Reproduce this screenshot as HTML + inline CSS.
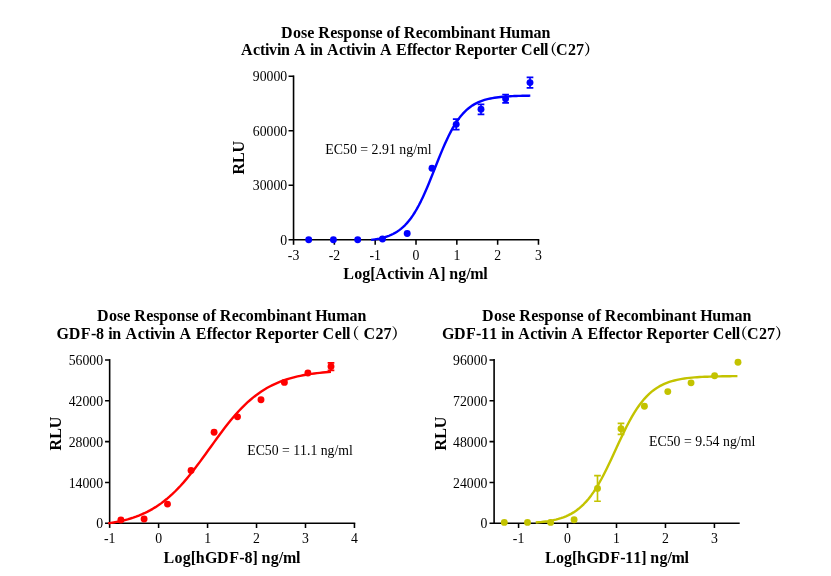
<!DOCTYPE html>
<html lang="en">
<head>
<meta charset="utf-8">
<title>Dose Response of Recombinant Human Activin A, GDF-8 and GDF-11 in Activin A Effector Reporter Cell (C27)</title>
<style>
html,body{margin:0;padding:0;background:#fff;}
body{width:831px;height:576px;overflow:hidden;}
svg{display:block;}
text{font-family:"Liberation Serif", "Noto Serif CJK SC", serif;fill:#000;white-space:pre;font-kerning:none;}
.tb{font-weight:bold;font-size:16px;}
.tk{font-size:14.5px;}
.te{font-size:14.6px;}
.ax{fill:none;stroke:#000;stroke-width:1.6;}
.tc{fill:none;stroke:#000;stroke-width:1.55;}
</style>
</head>
<body>
<svg width="831" height="576" viewBox="0 0 831 576">
<rect width="831" height="576" fill="#fff"/>
<g>
<text y="37.6" class="tb"><tspan x="281 293.07 301.11 307.15 314.18 318.21 330.27 337.31 343.35 352.4 360.44 369.49 375.53 382.57 386.59 394.63 399.66 403.68 415.75 422.79 429.83 437.87 450.95 460 464.02 473.07 481.11 490.16 495.19 499.21 511.28 520.33 533.4 541.45">Dose Response of Recombinant Human</tspan></text>
<text y="54.9" class="tb"><tspan x="241 253 260 265 269 277 281 290 294 306 310 314 323 327 339 346 351 355 363 367 376 380 392 396 407 412 417 424 431 436 444 451 455 467 474 483 491 498 503 510 517 521 533 540 544">Activin A in Activin A Effector Reporter Cell</tspan><tspan x="542.1" font-size="15">（</tspan><tspan x="556 568 576">C27</tspan><tspan x="584.1" font-size="15">）</tspan></text>
<path d="M288.55 239.8H539.27" class="ax"/>
<path d="M293.55 75.4V244.8" class="ax"/>
<path d="M288.55 185.27H293.55M288.55 130.73H293.55M288.55 76.2H293.55M334.37 239.8V244.8M375.19 239.8V244.8M416.01 239.8V244.8M456.83 239.8V244.8M497.65 239.8V244.8M538.47 239.8V244.8" class="tc"/>
<text transform="translate(287.15 244.9) scale(0.95 1)" class="tk" text-anchor="end">0</text>
<text transform="translate(287.15 190.37) scale(0.95 1)" class="tk" text-anchor="end">30000</text>
<text transform="translate(287.15 135.83) scale(0.95 1)" class="tk" text-anchor="end">60000</text>
<text transform="translate(287.15 81.3) scale(0.95 1)" class="tk" text-anchor="end">90000</text>
<text transform="translate(293.55 259.9) scale(0.95 1)" class="tk" text-anchor="middle">-3</text>
<text transform="translate(334.37 259.9) scale(0.95 1)" class="tk" text-anchor="middle">-2</text>
<text transform="translate(375.19 259.9) scale(0.95 1)" class="tk" text-anchor="middle">-1</text>
<text transform="translate(416.01 259.9) scale(0.95 1)" class="tk" text-anchor="middle">0</text>
<text transform="translate(456.83 259.9) scale(0.95 1)" class="tk" text-anchor="middle">1</text>
<text transform="translate(497.65 259.9) scale(0.95 1)" class="tk" text-anchor="middle">2</text>
<text transform="translate(538.47 259.9) scale(0.95 1)" class="tk" text-anchor="middle">3</text>
<text x="343.3 354.3 362.3 370.3 375.3 387.3 394.3 399.3 403.3 411.3 415.3 424.3 428.3 440.3 445.3 449.3 458.3 466.3 470.3 483.3" y="279.05" class="tb">Log[Activin A] ng/ml</text>
<text transform="translate(244.4 174.6) rotate(-90)" class="tb" x="0 11.59 22.21" y="0">RLU</text>
<text transform="translate(325.3 153.8) scale(0.95 1)" class="te">EC50 = 2.91 ng/ml</text>
<path d="M371.11 239.88 L373.1 239.62 L375.09 239.33 L377.08 239 L379.07 238.62 L381.06 238.19 L383.05 237.69 L385.04 237.13 L387.03 236.49 L389.02 235.76 L391.01 234.93 L393 233.99 L394.99 232.93 L396.98 231.73 L398.97 230.38 L400.96 228.86 L402.95 227.16 L404.94 225.26 L406.93 223.14 L408.92 220.8 L410.91 218.21 L412.9 215.36 L414.89 212.26 L416.88 208.88 L418.87 205.24 L420.86 201.34 L422.85 197.19 L424.84 192.81 L426.83 188.22 L428.82 183.46 L430.81 178.57 L432.8 173.58 L434.79 168.54 L436.78 163.51 L438.77 158.52 L440.76 153.62 L442.75 148.86 L444.74 144.27 L446.73 139.89 L448.72 135.74 L450.71 131.84 L452.7 128.2 L454.69 124.83 L456.68 121.72 L458.67 118.88 L460.66 116.29 L462.65 113.94 L464.64 111.83 L466.63 109.93 L468.62 108.22 L470.61 106.71 L472.6 105.35 L474.59 104.15 L476.58 103.09 L478.57 102.15 L480.56 101.33 L482.55 100.6 L484.54 99.96 L486.53 99.39 L488.52 98.9 L490.51 98.46 L492.5 98.09 L494.49 97.75 L496.48 97.46 L498.47 97.21 L500.46 96.99 L502.45 96.79 L504.44 96.62 L506.43 96.47 L508.42 96.34 L510.41 96.23 L512.4 96.13 L514.39 96.05 L516.38 95.97 L518.37 95.91 L520.36 95.85 L522.35 95.8 L524.34 95.76 L526.33 95.72 L528.32 95.69 L530.31 95.66" fill="none" stroke="#0000FF" stroke-width="2.4" stroke-linecap="butt" stroke-linejoin="round"/>
<path d="M456.2 119.05V129.65M452.85 119.05H459.55M452.85 129.65H459.55M481 104.3V114.3M477.65 104.3H484.35M477.65 114.3H484.35M505.6 94.5V102.9M502.25 94.5H508.95M502.25 102.9H508.95M530 77.4V87.8M526.65 77.4H533.35M526.65 87.8H533.35" fill="none" stroke="#0000FF" stroke-width="1.65"/>
<circle cx="308.7" cy="239.7" r="3.45" fill="#0000FF"/>
<circle cx="333.4" cy="239.7" r="3.45" fill="#0000FF"/>
<circle cx="357.7" cy="239.7" r="3.45" fill="#0000FF"/>
<circle cx="382.5" cy="239" r="3.45" fill="#0000FF"/>
<circle cx="407.2" cy="233.5" r="3.45" fill="#0000FF"/>
<circle cx="432" cy="168.3" r="3.45" fill="#0000FF"/>
<circle cx="456.2" cy="124.35" r="3.45" fill="#0000FF"/>
<circle cx="481" cy="109.3" r="3.45" fill="#0000FF"/>
<circle cx="505.6" cy="98.7" r="3.45" fill="#0000FF"/>
<circle cx="530" cy="82.6" r="3.45" fill="#0000FF"/>
</g>
<g>
<text y="321.1" class="tb"><tspan x="97 109.07 117.11 123.15 130.18 134.21 146.27 153.31 159.35 168.4 176.44 185.49 191.53 198.57 202.59 210.63 215.66 219.68 231.75 238.79 245.83 253.87 266.95 276 280.02 289.07 297.11 306.16 311.19 315.21 327.28 336.33 349.4 357.45">Dose Response of Recombinant Human</tspan></text>
<text y="339.2" class="tb"><tspan x="56.5 68.69 80.87 91.03 96.11 104.23 108.29 112.36 121.5 125.56 137.75 144.85 149.93 153.99 162.12 166.18 175.32 179.38 191.57 195.63 206.8 211.88 216.96 224.07 231.18 236.26 244.38 251.49 255.55 267.74 274.85 283.99 292.11 299.22 304.3 311.41 318.52 322.58 334.77 341.88 345.94">GDF-8 in Activin A Effector Reporter Cell</tspan><tspan x="344.2" font-size="15">（</tspan><tspan x="359.5 363.5 375.5 383.5"> C27</tspan><tspan x="391.6" font-size="15">）</tspan></text>
<path d="M105.05 523.3H355.25" class="ax"/>
<path d="M109.65 359.1V527.9" class="ax"/>
<path d="M105.05 482.45H109.65M105.05 441.6H109.65M105.05 400.75H109.65M105.05 359.9H109.65M158.61 523.3V527.9M207.57 523.3V527.9M256.53 523.3V527.9M305.49 523.3V527.9M354.45 523.3V527.9" class="tc"/>
<text transform="translate(103.05 528.4) scale(0.95 1)" class="tk" text-anchor="end">0</text>
<text transform="translate(103.05 487.55) scale(0.95 1)" class="tk" text-anchor="end">14000</text>
<text transform="translate(103.05 446.7) scale(0.95 1)" class="tk" text-anchor="end">28000</text>
<text transform="translate(103.05 405.85) scale(0.95 1)" class="tk" text-anchor="end">42000</text>
<text transform="translate(103.05 365) scale(0.95 1)" class="tk" text-anchor="end">56000</text>
<text transform="translate(109.65 543.4) scale(0.95 1)" class="tk" text-anchor="middle">-1</text>
<text transform="translate(158.61 543.4) scale(0.95 1)" class="tk" text-anchor="middle">0</text>
<text transform="translate(207.57 543.4) scale(0.95 1)" class="tk" text-anchor="middle">1</text>
<text transform="translate(256.53 543.4) scale(0.95 1)" class="tk" text-anchor="middle">2</text>
<text transform="translate(305.49 543.4) scale(0.95 1)" class="tk" text-anchor="middle">3</text>
<text transform="translate(354.45 543.4) scale(0.95 1)" class="tk" text-anchor="middle">4</text>
<text x="163.4 174.54 182.64 190.74 195.8 204.92 217.07 229.22 239.34 244.41 252.51 257.57 261.62 270.73 278.84 282.89 296.05" y="562.9" class="tb">Log[hGDF-8] ng/ml</text>
<text transform="translate(60.6 450.4) rotate(-90)" class="tb" x="0 11.59 22.21" y="0">RLU</text>
<text transform="translate(247.3 454.8) scale(0.942 1)" class="te">EC50 = 11.1 ng/ml</text>
<path d="M108.18 523.36 L110.97 522.92 L113.75 522.45 L116.54 521.93 L119.32 521.36 L122.1 520.74 L124.89 520.05 L127.67 519.31 L130.46 518.5 L133.24 517.61 L136.03 516.64 L138.81 515.59 L141.6 514.45 L144.38 513.21 L147.17 511.86 L149.95 510.41 L152.73 508.84 L155.52 507.15 L158.3 505.33 L161.09 503.38 L163.87 501.29 L166.66 499.06 L169.44 496.68 L172.23 494.16 L175.01 491.5 L177.8 488.68 L180.58 485.73 L183.37 482.63 L186.15 479.4 L188.93 476.05 L191.72 472.58 L194.5 469 L197.29 465.34 L200.07 461.6 L202.86 457.79 L205.64 453.95 L208.43 450.07 L211.21 446.19 L214 442.33 L216.78 438.49 L219.57 434.7 L222.35 430.98 L225.13 427.34 L227.92 423.79 L230.7 420.35 L233.49 417.03 L236.27 413.84 L239.06 410.78 L241.84 407.87 L244.63 405.09 L247.41 402.47 L250.2 399.99 L252.98 397.66 L255.77 395.46 L258.55 393.41 L261.33 391.5 L264.12 389.72 L266.9 388.06 L269.69 386.52 L272.47 385.1 L275.26 383.79 L278.04 382.57 L280.83 381.46 L283.61 380.43 L286.4 379.49 L289.18 378.62 L291.96 377.83 L294.75 377.1 L297.53 376.43 L300.32 375.83 L303.1 375.27 L305.89 374.76 L308.67 374.3 L311.46 373.88 L314.24 373.5 L317.03 373.15 L319.81 372.83 L322.6 372.54 L325.38 372.27 L328.16 372.03 L330.95 371.82" fill="none" stroke="#FF0000" stroke-width="2.4" stroke-linecap="butt" stroke-linejoin="round"/>
<path d="M331 362.85V370.35M327.65 362.85H334.35M327.65 370.35H334.35" fill="none" stroke="#FF0000" stroke-width="1.65"/>
<circle cx="120.9" cy="519.95" r="3.45" fill="#FF0000"/>
<circle cx="144.1" cy="519" r="3.45" fill="#FF0000"/>
<circle cx="167.5" cy="504.1" r="3.45" fill="#FF0000"/>
<circle cx="191.05" cy="470.4" r="3.45" fill="#FF0000"/>
<circle cx="214.1" cy="432.3" r="3.45" fill="#FF0000"/>
<circle cx="237.5" cy="416.85" r="3.45" fill="#FF0000"/>
<circle cx="261" cy="399.7" r="3.45" fill="#FF0000"/>
<circle cx="284.4" cy="382.4" r="3.45" fill="#FF0000"/>
<circle cx="307.9" cy="373" r="3.45" fill="#FF0000"/>
<circle cx="331" cy="366.5" r="3.45" fill="#FF0000"/>
</g>
<g>
<text y="321.1" class="tb"><tspan x="482 494.07 502.11 508.15 515.18 519.21 531.27 538.31 544.35 553.4 561.44 570.49 576.53 583.57 587.59 595.63 600.66 604.68 616.75 623.79 630.83 638.87 651.95 661 665.02 674.07 682.11 691.16 696.19 700.21 712.28 721.33 734.4 742.45">Dose Response of Recombinant Human</tspan></text>
<text y="339.2" class="tb"><tspan x="442 454.03 466.06 476.09 481.11 489.13 497.15 501.16 505.17 514.19 518.2 530.24 537.26 542.27 546.28 554.3 558.31 567.34 571.35 583.38 587.39 598.42 603.43 608.45 615.47 622.48 627.5 635.52 642.54 646.55 658.58 665.6 674.62 682.65 689.67 694.68 701.7 708.72 712.73 724.76 731.78 735.79">GDF-11 in Activin A Effector Reporter Cell</tspan><tspan x="732.6" font-size="15">（</tspan><tspan x="747 759 767">C27</tspan><tspan x="775.1" font-size="15">）</tspan></text>
<path d="M489.5 523.3H739.7" class="ax"/>
<path d="M494.1 359.1V524.1" class="ax"/>
<path d="M489.5 482.45H494.1M489.5 441.6H494.1M489.5 400.75H494.1M489.5 359.9H494.1M518.58 523.3V527.9M567.54 523.3V527.9M616.5 523.3V527.9M665.46 523.3V527.9M714.42 523.3V527.9" class="tc"/>
<text transform="translate(487.5 528.4) scale(0.95 1)" class="tk" text-anchor="end">0</text>
<text transform="translate(487.5 487.55) scale(0.95 1)" class="tk" text-anchor="end">24000</text>
<text transform="translate(487.5 446.7) scale(0.95 1)" class="tk" text-anchor="end">48000</text>
<text transform="translate(487.5 405.85) scale(0.95 1)" class="tk" text-anchor="end">72000</text>
<text transform="translate(487.5 365) scale(0.95 1)" class="tk" text-anchor="end">96000</text>
<text transform="translate(518.58 543.4) scale(0.95 1)" class="tk" text-anchor="middle">-1</text>
<text transform="translate(567.54 543.4) scale(0.95 1)" class="tk" text-anchor="middle">0</text>
<text transform="translate(616.5 543.4) scale(0.95 1)" class="tk" text-anchor="middle">1</text>
<text transform="translate(665.46 543.4) scale(0.95 1)" class="tk" text-anchor="middle">2</text>
<text transform="translate(714.42 543.4) scale(0.95 1)" class="tk" text-anchor="middle">3</text>
<text x="545 556.04 564.07 572.09 577.11 586.14 598.19 610.23 620.26 625.28 633.31 641.34 646.35 650.37 659.4 667.43 671.44 684.49" y="562.9" class="tb">Log[hGDF-11] ng/ml</text>
<text transform="translate(445.6 450.4) rotate(-90)" class="tb" x="0 11.59 22.21" y="0">RLU</text>
<text transform="translate(649 446.3) scale(0.95 1)" class="te">EC50 = 9.54 ng/ml</text>
<path d="M535.72 522.52 L538.24 522.31 L540.76 522.07 L543.28 521.79 L545.8 521.46 L548.32 521.09 L550.84 520.65 L553.37 520.16 L555.89 519.58 L558.41 518.92 L560.93 518.16 L563.45 517.29 L565.97 516.29 L568.49 515.16 L571.02 513.86 L573.54 512.38 L576.06 510.7 L578.58 508.81 L581.1 506.68 L583.62 504.29 L586.14 501.63 L588.67 498.68 L591.19 495.42 L593.71 491.84 L596.23 487.96 L598.75 483.77 L601.27 479.28 L603.79 474.52 L606.32 469.51 L608.84 464.31 L611.36 458.96 L613.88 453.5 L616.4 448.01 L618.92 442.54 L621.44 437.15 L623.97 431.89 L626.49 426.83 L629.01 421.99 L631.53 417.42 L634.05 413.13 L636.57 409.15 L639.1 405.49 L641.62 402.14 L644.14 399.09 L646.66 396.34 L649.18 393.87 L651.7 391.67 L654.22 389.7 L656.75 387.97 L659.27 386.43 L661.79 385.08 L664.31 383.89 L666.83 382.86 L669.35 381.95 L671.87 381.16 L674.4 380.47 L676.92 379.87 L679.44 379.35 L681.96 378.9 L684.48 378.51 L687 378.17 L689.52 377.87 L692.05 377.62 L694.57 377.4 L697.09 377.21 L699.61 377.05 L702.13 376.91 L704.65 376.78 L707.17 376.68 L709.7 376.59 L712.22 376.51 L714.74 376.44 L717.26 376.38 L719.78 376.33 L722.3 376.29 L724.82 376.25 L727.35 376.22 L729.87 376.19 L732.39 376.17 L734.91 376.15 L737.43 376.13" fill="none" stroke="#C3C300" stroke-width="2.4" stroke-linecap="butt" stroke-linejoin="round"/>
<path d="M597.5 475.6V501.2M594.15 475.6H600.85M594.15 501.2H600.85M621 423.3V434.3M617.65 423.3H624.35M617.65 434.3H624.35" fill="none" stroke="#C3C300" stroke-width="1.65"/>
<circle cx="504.3" cy="522.4" r="3.45" fill="#C3C300"/>
<circle cx="527.5" cy="522.4" r="3.45" fill="#C3C300"/>
<circle cx="550.6" cy="522.4" r="3.45" fill="#C3C300"/>
<circle cx="574.1" cy="519.7" r="3.45" fill="#C3C300"/>
<circle cx="597.5" cy="488.4" r="3.45" fill="#C3C300"/>
<circle cx="621" cy="428.8" r="3.45" fill="#C3C300"/>
<circle cx="644.4" cy="406.25" r="3.45" fill="#C3C300"/>
<circle cx="667.8" cy="391.6" r="3.45" fill="#C3C300"/>
<circle cx="691.05" cy="382.85" r="3.45" fill="#C3C300"/>
<circle cx="714.6" cy="375.8" r="3.45" fill="#C3C300"/>
<circle cx="738" cy="362.2" r="3.45" fill="#C3C300"/>
</g>
</svg>
</body>
</html>
